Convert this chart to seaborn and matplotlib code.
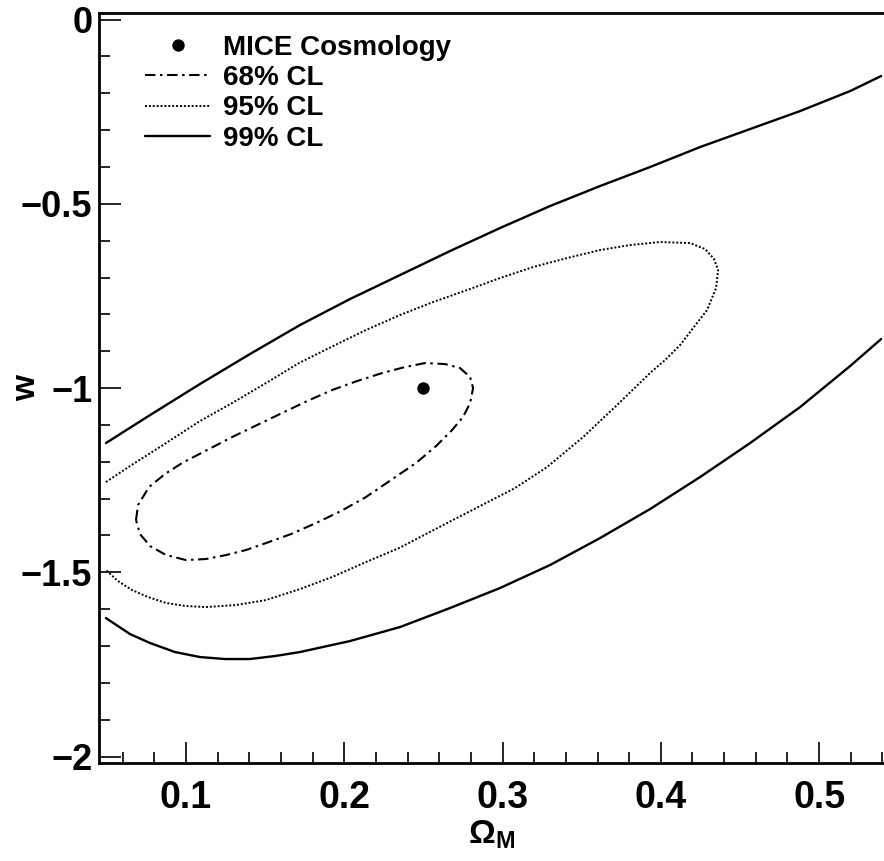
import matplotlib
matplotlib.use("Agg")
import matplotlib.pyplot as plt
from matplotlib.ticker import MultipleLocator, FixedLocator, FuncFormatter
import seaborn as sns

# Fiducial (MICE) cosmology
fid_om = [0.25]
fid_w = [-1.0]

# 68% CL contour (closed)
cl68_om = [0.0684, 0.0697, 0.0766, 0.0867, 0.0975, 0.1133, 0.1291, 0.1449, 0.1607, 0.1765,
           0.1923, 0.2081, 0.2239, 0.2384, 0.2510, 0.2637, 0.2731, 0.2795, 0.2814, 0.2795,
           0.2750, 0.2681, 0.2580, 0.2453, 0.2295, 0.2137, 0.1979, 0.1821, 0.1664, 0.1506,
           0.1379, 0.1253, 0.1126, 0.1000, 0.0874, 0.0773, 0.0709, 0.0684]
cl68_w = [-1.3582, -1.3175, -1.2687, -1.2334, -1.2035, -1.1682, -1.1330, -1.1004, -1.0678, -1.0353,
          -1.0054, -0.9810, -0.9593, -0.9430, -0.9322, -0.9349, -0.9457, -0.9701, -1.0000, -1.0407,
          -1.0787, -1.1140, -1.1574, -1.2035, -1.2497, -1.2958, -1.3338, -1.3664, -1.3962, -1.4206,
          -1.4396, -1.4532, -1.4640, -1.4668, -1.4532, -1.4288, -1.3962, -1.3582]

# 95% CL contour (open at the left edge)
cl95_om = [0.0494, 0.0646, 0.0874, 0.1088, 0.1291, 0.1506, 0.1714, 0.1929, 0.2137, 0.2352,
           0.2561, 0.2776, 0.2984, 0.3193, 0.3408, 0.3616, 0.3806, 0.3995, 0.4185, 0.4280,
           0.4336, 0.4362, 0.4349, 0.4292, 0.4204, 0.4122, 0.4027, 0.3938, 0.3730, 0.3509,
           0.3281, 0.3079, 0.2858, 0.2662, 0.2346, 0.2137, 0.1923, 0.1720, 0.1506, 0.1316,
           0.1126, 0.1000, 0.0874, 0.0760, 0.0659, 0.0570, 0.0494]
cl95_w = [-1.2551, -1.2117, -1.1493, -1.0896, -1.0407, -0.9864, -0.9322, -0.8860, -0.8426, -0.8019,
          -0.7666, -0.7341, -0.7015, -0.6716, -0.6472, -0.6255, -0.6119, -0.6038, -0.6065, -0.6228,
          -0.6499, -0.6798, -0.7286, -0.7883, -0.8372, -0.8833, -0.9240, -0.9566, -1.0434, -1.1330,
          -1.2144, -1.2714, -1.3202, -1.3636, -1.4342, -1.4722, -1.5129, -1.5455, -1.5753, -1.5889,
          -1.5943, -1.5916, -1.5834, -1.5672, -1.5482, -1.5237, -1.4939]

# 99% CL contour, upper and lower branches
cl99_up_om = [0.0494, 0.0773, 0.1088, 0.1404, 0.1720, 0.2036, 0.2352, 0.2668, 0.2984, 0.3300,
              0.3616, 0.3932, 0.4248, 0.4564, 0.4880, 0.5196, 0.5392]
cl99_up_w = [-1.1493, -1.0733, -0.9891, -0.9077, -0.8290, -0.7585, -0.6934, -0.6282, -0.5658, -0.5061,
             -0.4518, -0.4002, -0.3460, -0.2971, -0.2483, -0.1940, -0.1533]
cl99_lo_om = [0.0494, 0.0646, 0.0773, 0.0930, 0.1088, 0.1246, 0.1404, 0.1562, 0.1720, 0.2036,
              0.2352, 0.2668, 0.2984, 0.3300, 0.3616, 0.3932, 0.4248, 0.4564, 0.4880, 0.5196,
              0.5392]
cl99_lo_w = [-1.6242, -1.6676, -1.6920, -1.7164, -1.7300, -1.7354, -1.7354, -1.7273, -1.7164, -1.6866,
             -1.6486, -1.5970, -1.5427, -1.4803, -1.4071, -1.3284, -1.2415, -1.1493, -1.0516, -0.9403,
             -0.8670]

legend_labels = ["MICE Cosmology", "68% CL", "95% CL", "99% CL"]
x_major = [0.1, 0.2, 0.3, 0.4, 0.5]

sns.set_theme(style="ticks")
plt.rcParams.update({
    "font.family": ["Liberation Sans", "DejaVu Sans"],
    "font.weight": "bold",
    "mathtext.fontset": "custom",
    "mathtext.rm": "Liberation Sans",
    "mathtext.bf": "Liberation Sans:bold",
    "axes.edgecolor": "black",
    "axes.labelcolor": "black",
    "xtick.color": "black",
    "ytick.color": "black",
    "text.color": "black",
})

fig = plt.figure(figsize=(8.84, 8.61), dpi=100)
ax = fig.add_axes([0.1123, 0.1138, 0.8877, 0.8714])

sns.scatterplot(x=fid_om, y=fid_w, ax=ax, color="black", s=80, linewidth=0, zorder=5)
sns.lineplot(x=cl68_om, y=cl68_w, ax=ax, sort=False, estimator=None, color="black",
             lw=1.5, linestyle=(0, (5, 2.2, 1.2, 2.2)))
sns.lineplot(x=cl95_om, y=cl95_w, ax=ax, sort=False, estimator=None, color="black",
             lw=1.4, linestyle=(0, (1, 1)))
sns.lineplot(x=cl99_up_om, y=cl99_up_w, ax=ax, sort=False, estimator=None, color="black",
             lw=1.7, linestyle="-")
sns.lineplot(x=cl99_lo_om, y=cl99_lo_w, ax=ax, sort=False, estimator=None, color="black",
             lw=1.7, linestyle="-")

ax.set_xlim(0.0452, 0.541)
ax.set_ylim(-2.0176, 0.0185)

for side in ["left", "bottom", "top"]:
    ax.spines[side].set_linewidth(2.0)
ax.spines["right"].set_visible(False)

ax.xaxis.set_major_locator(FixedLocator(x_major))
ax.xaxis.set_major_formatter(FuncFormatter(lambda v, p: f"{v:.1f}"))
ax.xaxis.set_minor_locator(MultipleLocator(0.02))
ax.yaxis.set_major_locator(MultipleLocator(0.5))
ax.yaxis.set_major_formatter(FuncFormatter(lambda v, p: f"{v:g}".replace("-", "\u2212")))
ax.yaxis.set_minor_locator(MultipleLocator(0.1))

ax.tick_params(axis="both", which="both", direction="in", top=False, right=False)
ax.tick_params(axis="x", which="major", length=15, width=1.2, labelsize=27, pad=12)
ax.tick_params(axis="x", which="minor", length=8, width=1.2)
ax.tick_params(axis="y", which="major", length=16, width=1.2, labelsize=26, pad=5)
ax.tick_params(axis="y", which="minor", length=8, width=1.2)

ax.set_xlabel(r"$\Omega_{\mathbf{M}}$", fontsize=24, labelpad=2)
ax.set_ylabel("w", fontsize=24, fontweight="bold")
ax.yaxis.set_label_coords(-0.073, 0.5)

lines = ax.get_lines()
handles = [ax.collections[0], lines[0], lines[1], lines[2]]
ax.legend(handles, legend_labels, loc="upper left",
          bbox_to_anchor=(145 / 884, 1 - 35 / 861), bbox_transform=fig.transFigure,
          frameon=False, borderpad=0, borderaxespad=0, handlelength=2.34,
          handletextpad=0.47, labelspacing=0.15, scatteryoffsets=[0.5],
          prop={"weight": "bold", "size": 20})

fig.savefig("out.png", dpi=100)
